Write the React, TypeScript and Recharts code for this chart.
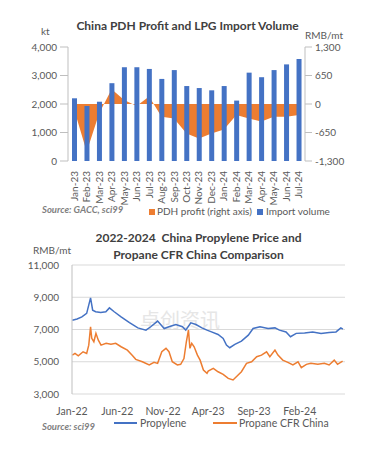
import { ComposedChart, Bar, Area, LineChart, Line, XAxis, YAxis, CartesianGrid } from "recharts"

const FONT = "Lato, 'Open Sans', sans-serif"
const BLUE = "#4472C4"
const ORANGE = "#ED7D31"
const TEXT = "#595959"
const AXIS = "#BFBFBF"
const GRID = "#D9D9D9"

// top chart: monthly LPG imports (kt) and PDH profit (RMB/mt)
const months = [
  "Jan-23", "Feb-23", "Mar-23", "Apr-23", "May-23", "Jun-23", "Jul-23", "Aug-23", "Sep-23", "Oct-23",
  "Nov-23", "Dec-23", "Jan-24", "Feb-24", "Mar-24", "Apr-24", "May-24", "Jun-24", "Jul-24",
]
const importVolume = [2200, 1930, 2080, 2730, 3290, 3290, 3230, 2880, 3190, 2630, 2560, 2480, 2630, 2120, 3100, 2940, 3190, 3390, 3580]
const pdhProfit = [-130, -1090, -210, 335, 90, -45, 170, -290, -330, -670, -785, -670, -580, -250, -330, -400, -290, -290, -250]
const volumeTicks = [0, 1000, 2000, 3000, 4000]
const profitTicks = [-1300, -650, 0, 650, 1300]

// bottom chart: propylene and propane CFR China prices (RMB/mt)
const propyleneDates = [
  "2022-01-02", "2022-01-18", "2022-02-03", "2022-02-19", "2022-03-04", "2022-03-11", "2022-03-21", "2022-04-07",
  "2022-04-24", "2022-05-06", "2022-05-22", "2022-06-14", "2022-07-12", "2022-08-09", "2022-09-05", "2022-09-21",
  "2022-10-14", "2022-11-05", "2022-11-21", "2022-12-14", "2023-01-05", "2023-01-16", "2023-02-02", "2023-02-19",
  "2023-03-11", "2023-03-28", "2023-04-12", "2023-05-04", "2023-05-21", "2023-06-01", "2023-06-12", "2023-06-29",
  "2023-07-21", "2023-08-13", "2023-08-29", "2023-09-21", "2023-10-18", "2023-11-10", "2023-11-25", "2023-12-17",
  "2024-01-01", "2024-01-20", "2024-02-17", "2024-03-15", "2024-04-12", "2024-05-09", "2024-06-01", "2024-06-17",
  "2024-06-24",
]
const propyleneValues = [
  7580, 7650, 7780, 8000, 8960, 8200, 8100, 8050,
  8100, 8340, 8100, 7780, 7430, 7100, 6960, 7170,
  7520, 7060, 7170, 7310, 7170, 6960, 7410, 7310,
  7100, 6960, 6850, 6690, 6450, 6030, 5870, 6080,
  6280, 6650, 7060, 7170, 7060, 7100, 6960, 6850,
  6550, 6760, 6790, 6850, 6760, 6820, 6850, 7100,
  7020,
]
const propaneDates = [
  "2022-01-02", "2022-01-11", "2022-01-22", "2022-02-07", "2022-02-19", "2022-02-26", "2022-03-04", "2022-03-08",
  "2022-03-15", "2022-03-22", "2022-03-30", "2022-04-08", "2022-04-25", "2022-05-11", "2022-05-27", "2022-06-14",
  "2022-07-05", "2022-07-21", "2022-08-02", "2022-08-24", "2022-09-16", "2022-10-02", "2022-10-14", "2022-10-28",
  "2022-11-11", "2022-11-21", "2022-12-02", "2022-12-19", "2022-12-30", "2023-01-10", "2023-01-18", "2023-01-25",
  "2023-01-30", "2023-02-05", "2023-02-13", "2023-02-24", "2023-03-05", "2023-03-16", "2023-03-28", "2023-04-01",
  "2023-04-18", "2023-05-04", "2023-05-21", "2023-06-07", "2023-06-23", "2023-07-04", "2023-07-21", "2023-08-07",
  "2023-08-24", "2023-09-10", "2023-09-26", "2023-10-13", "2023-10-24", "2023-11-10", "2023-11-20", "2023-12-06",
  "2023-12-23", "2024-01-09", "2024-01-26", "2024-02-06", "2024-02-23", "2024-03-09", "2024-04-01", "2024-04-23",
  "2024-05-09", "2024-05-26", "2024-06-06", "2024-06-23",
]
const propaneValues = [
  5410, 5520, 5370, 5620, 5520, 6030, 7170, 6450,
  6240, 6760, 6340, 6030, 6140, 6080, 6140, 5930,
  5720, 5410, 5150, 5000, 4800, 4960, 4900, 5620,
  5830, 5620, 5000, 4800, 4840, 5200, 6240, 6960,
  5830, 6140, 5930, 5410, 5100, 4490, 4280, 4420,
  4590, 4380, 4220, 3970, 3870, 4070, 4380, 4900,
  5000, 5310, 5410, 5620, 5310, 5720, 5410, 5100,
  4960, 4800, 5000, 4630, 4840, 4900, 4840, 4900,
  4800, 5100, 4840, 5040,
]
const dateTicks = ["2022-01-01", "2022-06-01", "2022-11-01", "2023-04-01", "2023-09-01", "2024-02-01"]
const dateTickLabels = ["Jan-22", "Jun-22", "Nov-22", "Apr-23", "Sep-23", "Feb-24"]
const priceTicks = [3000, 5000, 7000, 9000, 11000]

const toTime = (d: string) => Date.parse(d + "T00:00:00Z")
const fmt = (v: number) => v.toLocaleString("en-US")

const barData = months.map((m, i) => ({ month: m, volume: importVolume[i], profit: pdhProfit[i] }))
const propyleneData = propyleneDates.map((d, i) => ({ t: toTime(d), value: propyleneValues[i] }))
const propaneData = propaneDates.map((d, i) => ({ t: toTime(d), value: propaneValues[i] }))
const tickTimes = dateTicks.map(toTime)

const tickStyle = { fontSize: 10, fill: TEXT, fontFamily: FONT }

function MonthTick({ x, y, payload }: any) {
  return (
    <text
      x={x}
      y={y}
      dx={-2}
      dy="0.35em"
      transform={`rotate(-90 ${x} ${y})`}
      textAnchor="end"
      fontSize={10}
      fill={TEXT}
      fontFamily={FONT}
    >
      {payload.value}
    </text>
  )
}

const abs = (left: number, top: number, extra: any = {}) => ({
  position: "absolute" as const,
  left,
  top,
  fontFamily: FONT,
  color: TEXT,
  fontSize: 10,
  lineHeight: "12px",
  whiteSpace: "nowrap" as const,
  ...extra,
})

export default function App() {
  return (
    <div style={{ position: "absolute", left: 0, top: 0, width: 369, height: 459, background: "#fff", overflow: "hidden" }}>
      {/* top chart */}
      <div style={abs(0, 19, { width: 369, textAlign: "center", fontWeight: 700, fontSize: 12, color: "#404040", lineHeight: "14px", paddingLeft: 3 })}>
        China PDH Profit and LPG Import Volume
      </div>
      <div style={abs(41, 25)}>kt</div>
      <div style={abs(305, 29)}>RMB/mt</div>
      <div style={{ position: "absolute", left: 0, top: 0 }}>
        <ComposedChart width={369} height={206} data={barData} margin={{ top: 47, right: 14, bottom: 5, left: 28 }}>
          <XAxis dataKey="month" interval={0} height={40} axisLine={false} tickLine={false} tickMargin={2} tick={<MonthTick />} />
          <YAxis
            yAxisId="left"
            width={40}
            domain={[0, 4000]}
            ticks={volumeTicks}
            tickFormatter={fmt}
            stroke={AXIS}
            tickSize={8}
            tickMargin={3}
            tick={tickStyle}
          />
          <YAxis
            yAxisId="right"
            orientation="right"
            width={50}
            domain={[-1300, 1300]}
            ticks={profitTicks}
            tickFormatter={fmt}
            stroke={AXIS}
            tickSize={7}
            tickMargin={3}
            tick={tickStyle}
          />
          <Area
            yAxisId="right"
            type="linear"
            dataKey="profit"
            baseValue={0}
            fill={ORANGE}
            fillOpacity={1}
            stroke="none"
            isAnimationActive={false}
          />
          <Bar yAxisId="left" dataKey="volume" fill={BLUE} barSize={5} isAnimationActive={false} />
        </ComposedChart>
      </div>
      <div style={abs(42, 204, { fontStyle: "italic", fontWeight: 700, color: "#7F7F7F", fontSize: 9.5 })}>Source: GACC, sci99</div>
      <div style={{ position: "absolute", left: 149, top: 209, width: 6, height: 6, background: ORANGE }} />
      <div style={abs(157, 205)}>PDH profit (right axis)</div>
      <div style={{ position: "absolute", left: 257, top: 209, width: 6, height: 6, background: BLUE }} />
      <div style={abs(266, 205)}>Import volume</div>

      {/* bottom chart */}
      <div style={abs(0, 229, { width: 369, textAlign: "center", fontWeight: 700, fontSize: 12, color: "#404040", lineHeight: "17px", paddingLeft: 14 })}>
        2022-2024&nbsp; China Propylene Price and
        <br />
        Propane CFR China Comparison
      </div>
      <div style={abs(33, 244)}>RMB/mt</div>
      <div style={abs(140, 308, { fontSize: 20, color: "#E6E6E6", fontFamily: "'Noto Sans CJK SC', sans-serif", lineHeight: "24px" })}>卓创资讯</div>
      <div style={{ position: "absolute", left: 0, top: 220 }}>
        <LineChart width={369} height={204} margin={{ top: 45, right: 24, bottom: 0, left: 22 }}>
          <CartesianGrid vertical={false} stroke={GRID} />
          <XAxis
            type="number"
            dataKey="t"
            domain={[toTime("2022-01-01"), toTime("2024-07-01")]}
            ticks={tickTimes}
            tickFormatter={(v: number) => dateTickLabels[tickTimes.indexOf(v)] ?? ""}
            height={30}
            axisLine={false}
            tickLine={false}
            tickMargin={8}
            tick={{ ...tickStyle, fontSize: 10.5 }}
            allowDataOverflow
          />
          <YAxis
            width={50}
            domain={[3000, 11000]}
            ticks={priceTicks}
            tickFormatter={fmt}
            stroke={AXIS}
            tickLine={false}
            tickSize={0}
            tickMargin={13}
            tick={tickStyle}
          />
          <Line data={propyleneData} dataKey="value" type="linear" stroke={BLUE} strokeWidth={1.5} dot={false} isAnimationActive={false} />
          <Line data={propaneData} dataKey="value" type="linear" stroke={ORANGE} strokeWidth={1.5} dot={false} isAnimationActive={false} />
        </LineChart>
      </div>
      <div style={abs(42, 421, { fontStyle: "italic", fontWeight: 700, color: "#7F7F7F", fontSize: 9.5 })}>Source: sci99</div>
      <div style={{ position: "absolute", left: 114, top: 422, width: 23, height: 2, background: BLUE }} />
      <div style={abs(140, 417, { fontSize: 10.5 })}>Propylene</div>
      <div style={{ position: "absolute", left: 213, top: 422, width: 24, height: 2, background: ORANGE }} />
      <div style={abs(239, 417, { fontSize: 10.5 })}>Propane CFR China</div>
    </div>
  )
}
